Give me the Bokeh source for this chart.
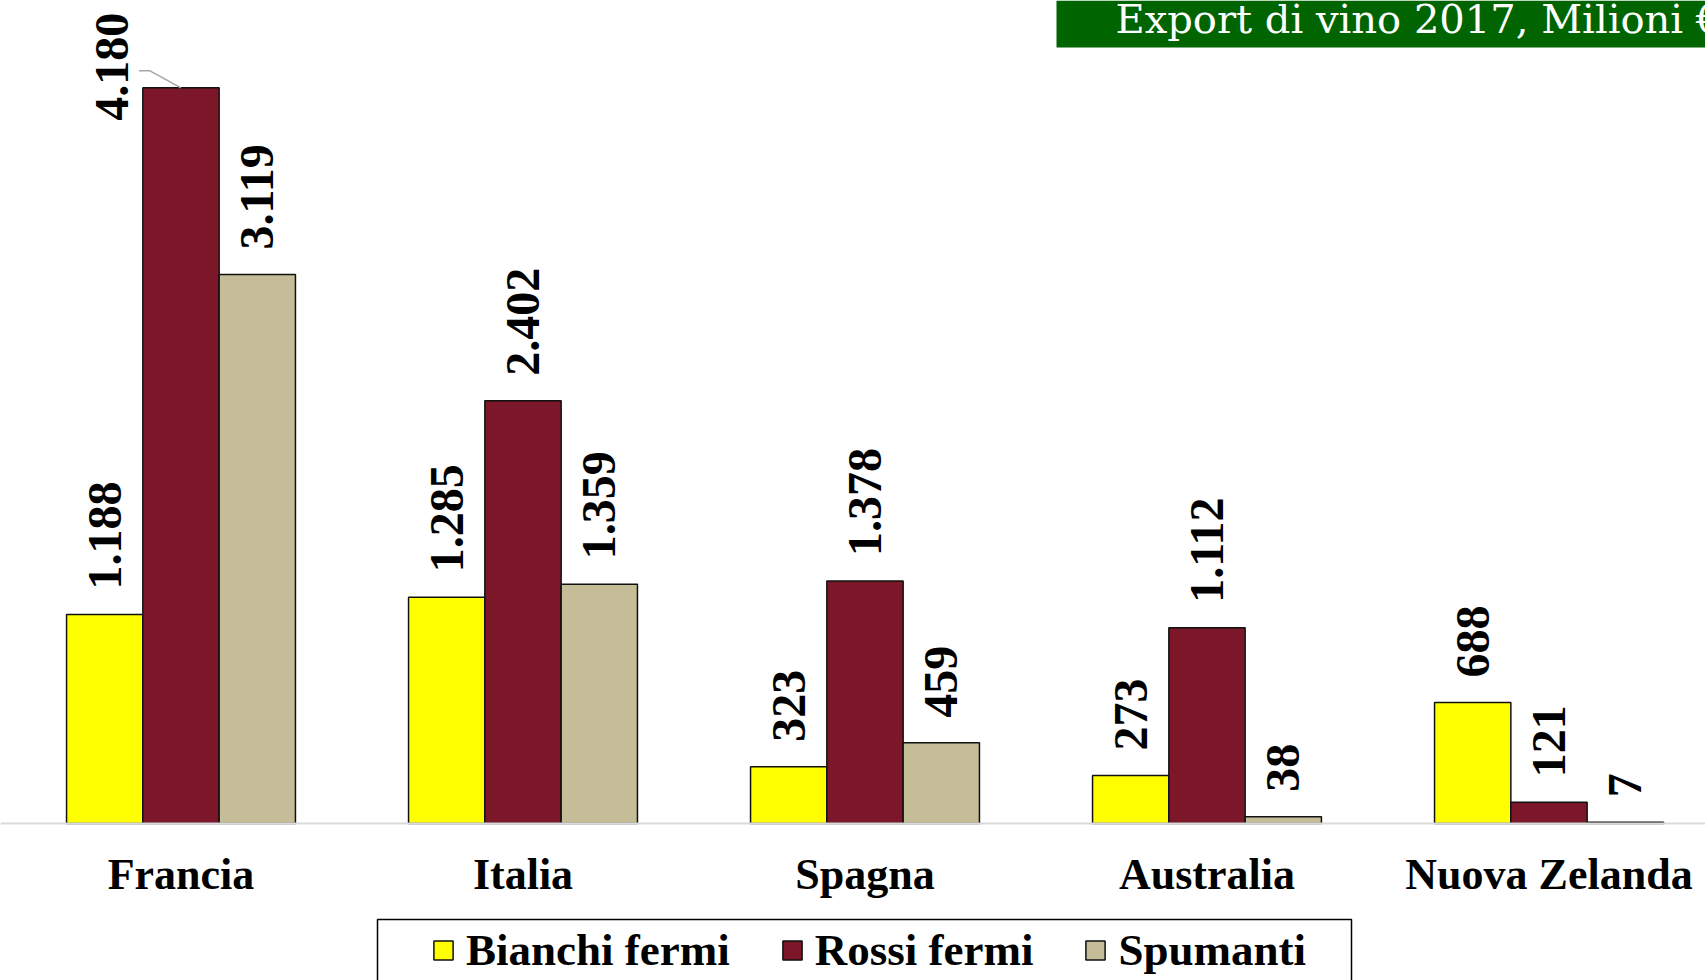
import numpy as np
from bokeh.plotting import figure
from bokeh.models import Range1d, FixedTicker, BoxAnnotation, Label
from bokeh.core.properties import value
from bokeh.embed import file_html
from bokeh.resources import INLINE

# ---------------- data ----------------
countries = ["Francia", "Italia", "Spagna", "Australia", "Nuova Zelanda"]
series_names = ["Bianchi fermi", "Rossi fermi", "Spumanti"]
bianchi_fermi = [1188, 1285, 323, 273, 688]
rossi_fermi = [4180, 2402, 1378, 1112, 121]
spumanti = [3119, 1359, 459, 38, 7]
series_colors = ["#FFFF00", "#7B1729", "#C4BD97"]
title_text = "Export di vino 2017, Milioni €"

# ---------------- layout constants (page pixels) ----------------
W, H = 1705, 980
PAGE = 0                 # observed page offset
GROUP0_PX = 180.5        # centre of first group
STEP_PX = 342.0          # distance between groups
BASE_PX = 823.0          # baseline y
PPU = 0.176              # pixels per unit (vertical)
BAR_W = 76.3 / STEP_PX

def px_to_x(px):
    return (px - GROUP0_PX) / STEP_PX

def px_to_y(py):
    return (BASE_PX - py) / PPU

x_start, x_end = px_to_x(PAGE), px_to_x(PAGE + W)
y_start, y_end = px_to_y(PAGE + H), px_to_y(PAGE)

p = figure(width=W, height=H, x_range=Range1d(x_start, x_end),
           y_range=Range1d(y_start, y_end), output_backend="svg",
           toolbar_location=None, min_border=0, outline_line_color=None)
p.grid.visible = False
p.yaxis.visible = False

ax = p.xaxis[0]
ax.ticker = FixedTicker(ticks=list(range(len(countries))))
ax.major_label_overrides = {i: c for i, c in enumerate(countries)}
ax.fixed_location = 0
ax.axis_line_color = "#D9D9D9"
ax.axis_line_width = 2
ax.major_tick_line_color = None
ax.minor_tick_line_color = None
ax.major_label_text_font = "Liberation Serif"
ax.major_label_text_font_style = "bold"
ax.major_label_text_font_size = "44px"
ax.major_label_text_color = "black"
ax.major_label_standoff = 20

all_series = [bianchi_fermi, rossi_fermi, spumanti]

# label offsets (px) : default above bar; exception for the clipped French red bar
LABEL_GAP = 25
label_override = {(0, 1): (-69, -33)}

lx, ly, lt = [], [], []
for j, (name, vals, col) in enumerate(zip(series_names, all_series, series_colors)):
    xs = [i + (j - 1) * BAR_W for i in range(len(countries))]
    p.vbar(x=xs, top=vals, bottom=0, width=BAR_W, fill_color=col,
           line_color="#111111", line_width=1.5, legend_label=name)
    for i, v in enumerate(vals):
        dx, dy = label_override.get((i, j), (0, LABEL_GAP))
        lx.append(xs[i] + dx / STEP_PX)
        ly.append(v + dy / PPU)
        lt.append(f"{v:,}".replace(",", "."))

p.text(x=lx, y=ly, text=lt, angle=np.pi / 2, text_align="left",
       text_baseline="middle", text_font=value("Liberation Serif"),
       text_font_style="bold", text_font_size="48px", text_color="black")

# leader line for the French red bar label
bx = 0 + (1 - 1) * BAR_W
bv = rossi_fermi[0]
p.line(x=[bx - 42 / STEP_PX, bx - 31 / STEP_PX, bx],
       y=[bv + 17 / PPU, bv + 17 / PPU, bv],
       line_color="#A6A6A6", line_width=1.5)

# legend
lg = p.legend[0]
lg.orientation = "horizontal"
lg.location = (431, 4)
lg.padding = 0
lg.spacing = 50
lg.label_standoff = 11
lg.glyph_width = 24
lg.glyph_height = 24
lg.label_text_font = "Liberation Serif"
lg.label_text_font_style = "bold"
lg.label_text_font_size = "45px"
lg.label_text_color = "black"
lg.border_line_alpha = 0
lg.background_fill_alpha = 0

legend_box = BoxAnnotation(left=px_to_x(377), right=px_to_x(1351),
                           top=px_to_y(919), bottom=px_to_y(1010),
                           fill_alpha=0, line_color="black", line_alpha=1,
                           line_width=1.5)
p.add_layout(legend_box)

# title box
title_box = BoxAnnotation(left=px_to_x(1056), bottom=px_to_y(47),
                          fill_color="#006400", fill_alpha=1, line_alpha=0)
p.add_layout(title_box)
p.add_layout(Label(x=px_to_x(1115), y=px_to_y(18), text=title_text,
                   text_color="white", text_font="DejaVu Serif",
                   text_font_size="40px", text_align="left",
                   text_baseline="alphabetic"))

open("out.html", "w").write(file_html(p, INLINE))
